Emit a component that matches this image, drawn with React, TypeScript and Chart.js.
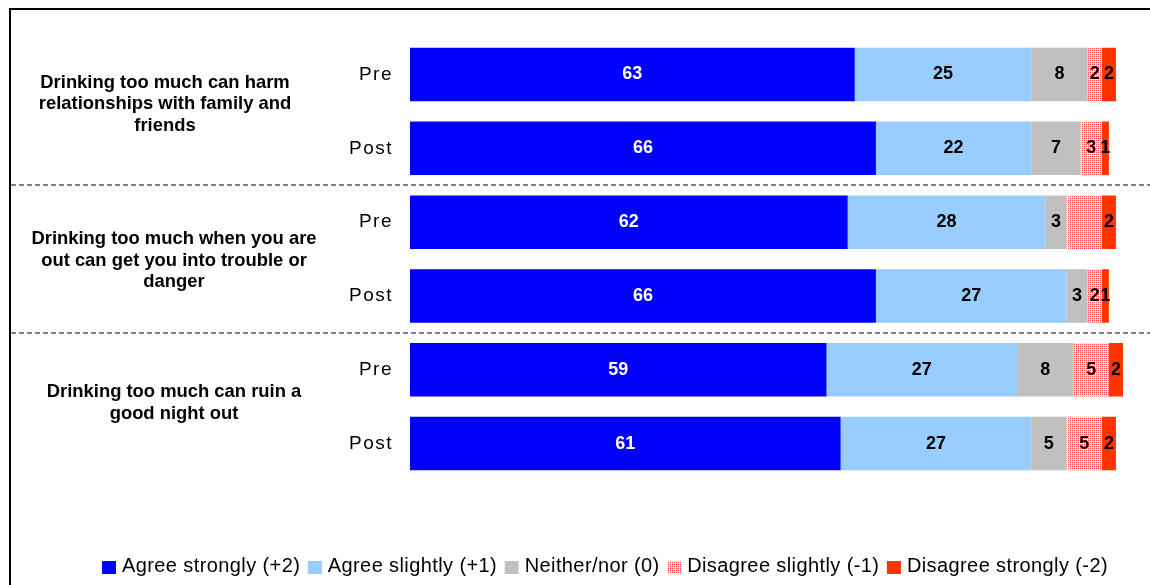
import { useEffect, useRef } from 'react';
import { Chart, registerables } from 'chart.js';

Chart.register(...registerables);

// Rows: each statement asked before (Pre) and after (Post)
const rowLabels = ['Pre', 'Post', 'Pre', 'Post', 'Pre', 'Post'];

const statementLines = [
  ['Drinking too much can harm', 'relationships with family and', 'friends'],
  ['Drinking too much when you are', 'out can get you into trouble or', 'danger'],
  ['Drinking too much can ruin a', 'good night out'],
];

const seriesNames = [
  'Agree strongly (+2)',
  'Agree slightly (+1)',
  'Neither/nor (0)',
  'Disagree slightly (-1)',
  'Disagree strongly (-2)',
];

// Percentages per row
const agreeStrongly = [63, 66, 62, 66, 59, 61];
const agreeSlightly = [25, 22, 28, 27, 27, 27];
const neitherNor = [8, 7, 3, 3, 8, 5];
const disagreeSlightly = [2, 3, 5, 2, 5, 5];
const disagreeStrongly = [2, 1, 2, 1, 2, 2];

// [series index, row index] segments that carry no value label
const unlabelled: Array<[number, number]> = [[3, 2]];

const FONT = '"Liberation Sans", Arial, Helvetica, sans-serif';
const W = 1150;
const H = 585;

// Placement of the statement text blocks beside each pair of bars
const statementLayout = [
  { x: 165, dy: -7 },
  { x: 174, dy: 1.5 },
  { x: 174, dy: -4 },
];
const statementLineHeight = 21.5;

const legendLayout = { left: 102, right: 1108, boxTop: 561, boxW: 14, boxH: 13, textGap: 6, textY: 566.5 };

function makeDottedPattern(): CanvasPattern | string {
  const tile = document.createElement('canvas');
  tile.width = 4;
  tile.height = 4;
  const t = tile.getContext('2d');
  if (!t) return '#ff9999';
  const R = '#ff4a4a';
  const P = '#ffd2d2';
  const Wh = '#ffffff';
  const grid = [
    [R, P, R, Wh],
    [P, Wh, P, Wh],
    [R, P, R, Wh],
    [P, Wh, P, Wh],
  ];
  grid.forEach((row, yy) =>
    row.forEach((c, xx) => {
      t.fillStyle = c;
      t.fillRect(xx, yy, 1, 1);
    })
  );
  return t.createPattern(tile, 'repeat') || '#ff9999';
}

const decorPlugin = {
  id: 'decor',
  beforeDraw(chart: any) {
    // letter-spaced row labels (Pre / Post)
    chart.ctx.letterSpacing = '1.5px';
  },
  beforeDatasetsDraw(chart: any) {
    chart.ctx.letterSpacing = '0px';
  },
  afterDatasetsDraw(chart: any) {
    const ctx = chart.ctx;
    ctx.save();
    ctx.letterSpacing = '0px';
    ctx.font = `bold 18px ${FONT}`;
    ctx.textAlign = 'center';
    ctx.textBaseline = 'middle';
    chart.data.datasets.forEach((ds: any, di: number) => {
      const meta = chart.getDatasetMeta(di);
      meta.data.forEach((bar: any, i: number) => {
        if (unlabelled.some(([d, r]) => d === di && r === i)) return;
        const { x, y, base } = bar.getProps(['x', 'y', 'base'], true);
        ctx.fillStyle = di === 0 ? '#ffffff' : '#000000';
        ctx.fillText(String(ds.data[i]), (x + base) / 2, y);
      });
    });
    ctx.restore();
  },
  afterDraw(chart: any) {
    const ctx = chart.ctx;
    const yScale = chart.scales.y;
    ctx.save();
    ctx.letterSpacing = '0px';

    // outer frame (left and top edges)
    ctx.fillStyle = '#000';
    ctx.fillRect(9, 8, 2, H);
    ctx.fillRect(9, 8, W, 2);

    // dashed separators between statements
    ctx.strokeStyle = '#808080';
    ctx.lineWidth = 2;
    ctx.setLineDash([5, 3]);
    for (let g = 1; g < statementLines.length; g++) {
      const y = Math.round((yScale.getPixelForTick(2 * g - 1) + yScale.getPixelForTick(2 * g)) / 2);
      ctx.beginPath();
      ctx.moveTo(11, y);
      ctx.lineTo(W, y);
      ctx.stroke();
    }
    ctx.setLineDash([]);

    // statement text
    ctx.fillStyle = '#000';
    ctx.font = `bold 18.4px ${FONT}`;
    ctx.textAlign = 'center';
    ctx.textBaseline = 'middle';
    statementLines.forEach((lines, g) => {
      const c = (yScale.getPixelForTick(2 * g) + yScale.getPixelForTick(2 * g + 1)) / 2 + statementLayout[g].dy;
      lines.forEach((line, li) => {
        const y = c + (li - (lines.length - 1) / 2) * statementLineHeight;
        ctx.fillText(line, statementLayout[g].x, y);
      });
    });

    // legend
    const L = legendLayout;
    ctx.font = `20px ${FONT}`;
    ctx.letterSpacing = '0.4px';
    ctx.textAlign = 'left';
    const datasets = chart.data.datasets;
    const widths = datasets.map((ds: any) => ctx.measureText(ds.label).width);
    const itemW = widths.map((w: number) => L.boxW + L.textGap + w);
    const total = itemW.reduce((a: number, b: number) => a + b, 0);
    const gap = (L.right - L.left - total) / (datasets.length - 1);
    let x = L.left;
    datasets.forEach((ds: any, i: number) => {
      ctx.fillStyle = ds.backgroundColor;
      ctx.fillRect(x, L.boxTop, L.boxW, L.boxH);
      ctx.fillStyle = '#000';
      ctx.fillText(ds.label, x + L.boxW + L.textGap, L.textY);
      x += itemW[i] + gap;
    });
    ctx.restore();
  },
};

export default function App() {
  const canvasRef = useRef<HTMLCanvasElement | null>(null);

  useEffect(() => {
    const canvas = canvasRef.current;
    if (!canvas) return;
    const dotted = makeDottedPattern();
    const colours = ['#0000ff', '#99ccff', '#c0c0c0', dotted, '#ff3300'];
    const series = [agreeStrongly, agreeSlightly, neitherNor, disagreeSlightly, disagreeStrongly];

    const chart = new Chart(canvas, {
      type: 'bar',
      data: {
        labels: rowLabels,
        datasets: series.map((data, i) => ({
          label: seriesNames[i],
          data,
          backgroundColor: colours[i] as any,
          borderWidth: 0,
          barPercentage: 0.725,
          categoryPercentage: 1,
        })),
      },
      options: {
        indexAxis: 'y',
        responsive: false,
        animation: false,
        devicePixelRatio: 1,
        layout: { padding: { top: 37.6, right: 27, bottom: 104.5, left: 0 } },
        plugins: {
          legend: { display: false },
          tooltip: { enabled: false },
        },
        scales: {
          x: { stacked: true, min: 0, max: 101, display: false },
          y: {
            stacked: true,
            grid: { display: false },
            border: { display: false },
            ticks: {
              color: '#000',
              font: { family: FONT, size: 19 },
              padding: 9,
            },
            afterFit: (scale: any) => {
              scale.width = 410;
            },
          },
        },
      },
      plugins: [decorPlugin],
    });

    return () => chart.destroy();
  }, []);

  return (
    <canvas
      ref={canvasRef}
      width={W}
      height={H}
      style={{ position: 'fixed', left: 0, top: 0, width: W, height: H, display: 'block', background: '#fff' }}
    />
  );
}
